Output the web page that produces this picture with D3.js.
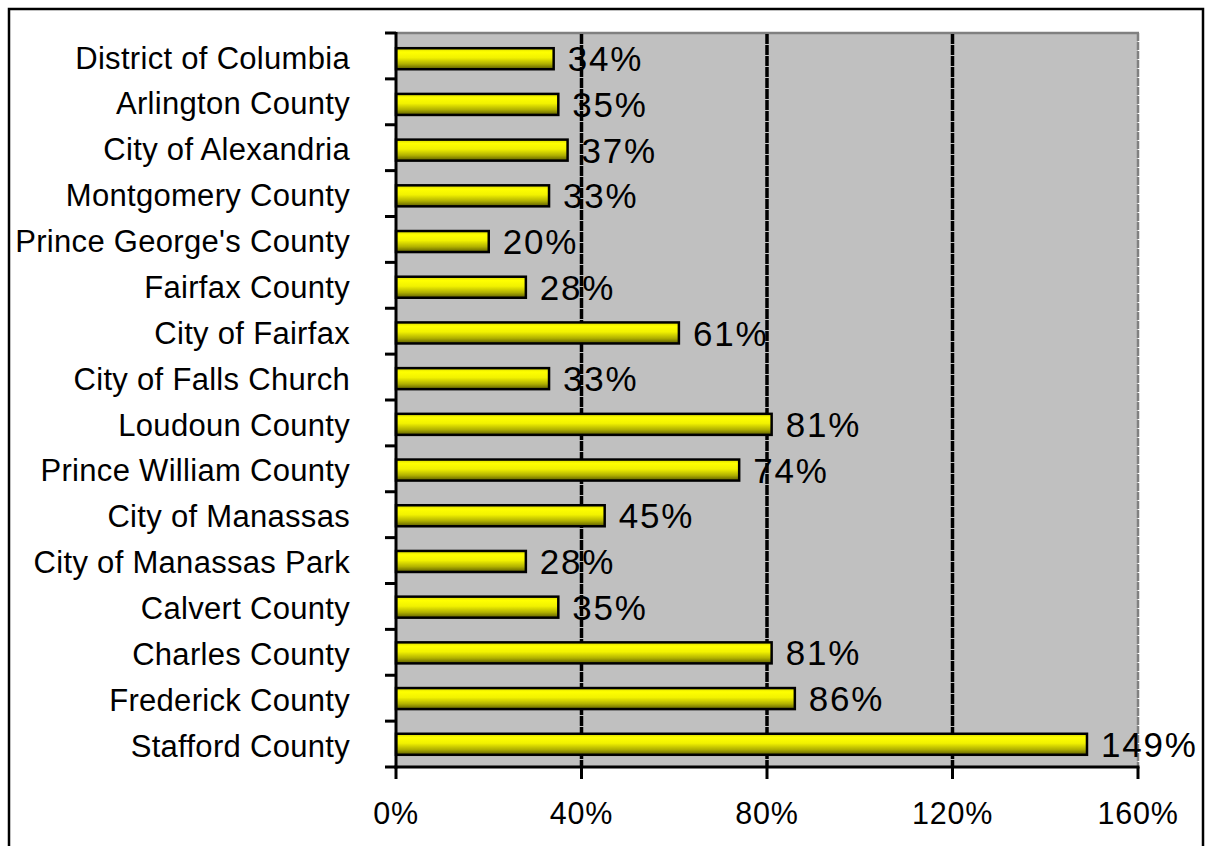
<!DOCTYPE html>
<html>
<head>
<meta charset="utf-8">
<script src="https://cdn.jsdelivr.net/npm/d3@7"></script>
<style>
  html, body { margin: 0; padding: 0; background: #ffffff; }
  svg { display: block; }
  text { font-family: "Liberation Sans", Arial, sans-serif; fill: #000; }
</style>
</head>
<body>
<script>
const categories = [
  "District of Columbia", "Arlington County", "City of Alexandria", "Montgomery County",
  "Prince George's County", "Fairfax County", "City of Fairfax", "City of Falls Church",
  "Loudoun County", "Prince William County", "City of Manassas", "City of Manassas Park",
  "Calvert County", "Charles County", "Frederick County", "Stafford County"
];
const values = [34, 35, 37, 33, 20, 28, 61, 33, 81, 74, 45, 28, 35, 81, 86, 149];
const xTicks = [0, 40, 80, 120, 160];
const gridTicks = [40, 80, 120];

const W = 1206, H = 846;
const margin = { left: 396, right: 68, top: 33, bottom: 79 };

const svg = d3.select("body").append("svg").attr("width", W).attr("height", H);

const defs = svg.append("defs");
const grad = defs.append("linearGradient").attr("id", "barGrad")
  .attr("x1", 0).attr("y1", 0).attr("x2", 0).attr("y2", 1);
[["0%", "#d8d800"], ["18%", "#ffff00"], ["45%", "#f2f200"], ["75%", "#b0b000"], ["100%", "#5a5a00"]]
  .forEach(([o, c]) => grad.append("stop").attr("offset", o).attr("stop-color", c));

const x = d3.scaleLinear().domain([0, 160]).range([margin.left, W - margin.right]);
const y = d3.scaleBand().domain(categories).range([margin.top, H - margin.bottom])
  .paddingInner(0.54).paddingOuter(0.3);
const yBand = d3.scaleBand().domain(categories).range([margin.top, H - margin.bottom]).padding(0);

// outer border
svg.append("rect").attr("x", 9).attr("y", 9).attr("width", 1194).attr("height", 900)
  .attr("fill", "none").attr("stroke", "#000").attr("stroke-width", 2.5);

// plot area background
svg.append("rect")
  .attr("x", x(0)).attr("y", margin.top)
  .attr("width", x(160) - x(0)).attr("height", H - margin.bottom - margin.top)
  .attr("fill", "#c0c0c0");

// plot top/right border
svg.append("line").attr("x1", x(0)).attr("x2", x(160) + 1).attr("y1", margin.top).attr("y2", margin.top)
  .attr("stroke", "#808080").attr("stroke-width", 2.5);
svg.append("line").attr("x1", x(160)).attr("x2", x(160)).attr("y1", margin.top).attr("y2", H - margin.bottom)
  .attr("stroke", "#808080").attr("stroke-width", 2.5).attr("stroke-dasharray", "8,1");

// gridlines
svg.append("g").selectAll("line").data(gridTicks).join("line")
  .attr("x1", d => x(d)).attr("x2", d => x(d))
  .attr("y1", margin.top + 1).attr("y2", H - margin.bottom)
  .attr("stroke", "#000").attr("stroke-width", 3.5).attr("stroke-dasharray", "10,1");

// bars
const yOff = 1.5;
svg.append("g").selectAll("rect").data(values).join("rect")
  .attr("x", x(0))
  .attr("y", (d, i) => y(categories[i]) + yOff)
  .attr("width", d => x(d) - x(0))
  .attr("height", y.bandwidth())
  .attr("fill", "url(#barGrad)")
  .attr("stroke", "#000").attr("stroke-width", 2.5);

// value labels
svg.append("g").selectAll("text").data(values).join("text")
  .attr("x", d => x(d) + 14)
  .attr("y", (d, i) => y(categories[i]) + yOff + y.bandwidth() / 2)
  .attr("dy", "0.36em")
  .attr("font-size", 35)
  .attr("letter-spacing", 1.8)
  .text(d => d + "%");

// y axis
const yAxis = svg.append("g").attr("transform", `translate(${x(0)},0)`);
yAxis.append("line").attr("x1", 0).attr("x2", 0).attr("y1", margin.top - 1).attr("y2", H - margin.bottom + 1.5)
  .attr("stroke", "#000").attr("stroke-width", 3);
const yTickPos = categories.map(c => yBand(c)).concat([H - margin.bottom]);
yAxis.selectAll("line.tick").data(yTickPos).join("line").attr("class", "tick")
  .attr("x1", -11).attr("x2", 0).attr("y1", d => d).attr("y2", d => d)
  .attr("stroke", "#000").attr("stroke-width", 3);

// category labels
svg.append("g").selectAll("text").data(categories).join("text")
  .attr("x", 350)
  .attr("y", d => yBand(d) + yBand.bandwidth() / 2 + 1.5)
  .attr("dy", "0.36em")
  .attr("text-anchor", "end")
  .attr("font-size", 31)
  .attr("letter-spacing", 0.3)
  .text(d => d);

// x axis
const xAxisG = svg.append("g").attr("transform", `translate(0,${H - margin.bottom})`);
xAxisG.append("line").attr("x1", x(0) - 1.5).attr("x2", x(160) + 1.5).attr("y1", 0).attr("y2", 0)
  .attr("stroke", "#000").attr("stroke-width", 3);
xAxisG.selectAll("line.tick").data(xTicks).join("line").attr("class", "tick")
  .attr("x1", d => x(d)).attr("x2", d => x(d)).attr("y1", 0).attr("y2", 12)
  .attr("stroke", "#000").attr("stroke-width", 3);
xAxisG.selectAll("text").data(xTicks).join("text")
  .attr("x", d => x(d))
  .attr("y", 57)
  .attr("text-anchor", "middle")
  .attr("font-size", 30.5)
  .attr("letter-spacing", 0.8)
  .text(d => d + "%");
</script>
</body>
</html>
